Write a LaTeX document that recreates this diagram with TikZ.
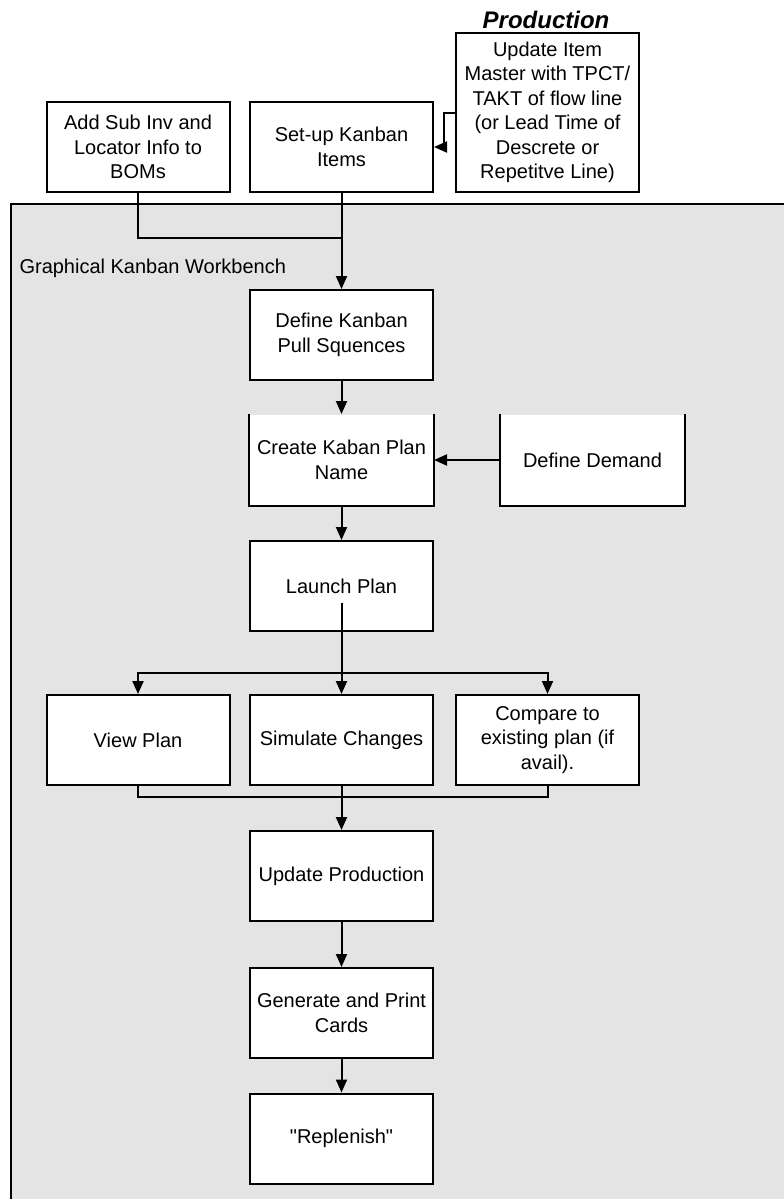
\documentclass[tikz,border=0pt]{standalone}
\usepackage{fontspec}
\setmainfont{Liberation Sans}
\usepackage{tikz}
\usetikzlibrary{arrows.meta,calc}
\definecolor{benchgray}{RGB}{228,228,228}

\begin{document}
\begin{tikzpicture}[
  x=1pt, y=-1pt,
  box/.style={draw, line width=2pt, fill=white, align=center,
              font=\fontsize{20}{24.5}\selectfont,
              minimum width=183pt, minimum height=90pt, inner sep=0pt},
  openbox/.style={box, draw=none},
  arr/.style={-{Triangle[length=13pt,width=11pt]}, line width=2pt},
  wire/.style={line width=2pt}
]
\useasboundingbox (0,0) rectangle (784,1199);
% workbench area
\fill[benchgray] (11,204) rectangle (784,1199);
\draw[wire] (11,1199) -- (11,204) -- (784,204);
\node[anchor=west, font=\fontsize{20}{24.5}\selectfont] (wb) at (16,268) {Graphical Kanban Workbench};

% set-up steps
\node[font=\fontsize{24}{28}\selectfont\bfseries\itshape] (prodtitle) at (546,20) {Production};
\node[box] (bom) at (138,147) {Add Sub Inv and\\Locator Info to\\BOMs};
\node[box] (setup) at (341.5,147) {Set-up Kanban\\Items};
\node[box, minimum height=159pt] (prod) at (547.5,112.5)
  {Update Item\\Master with TPCT/\\TAKT of flow line\\(or Lead Time of\\Descrete or\\Repetitve Line)};

% workbench steps
\node[box] (pull) at (341.5,335) {Define Kanban\\Pull Squences};
\node[openbox] (plan) at (341.5,460) {Create Kaban Plan\\Name};
\node[openbox] (demand) at (592.5,460) {Define Demand};
\draw[wire] (plan.north west) -- (plan.south west) -- (plan.south east) -- (plan.north east);
\draw[wire] (demand.north west) -- (demand.south west) -- (demand.south east) -- (demand.north east);
\node[box] (launch) at (341.5,586) {Launch Plan};
\node[box] (view) at (138,740) {View Plan};
\node[box] (sim) at (341.5,740) {Simulate Changes};
\node[box] (cmp) at (547.5,740) {Compare to\\existing plan (if\\avail).};
\node[box] (update) at (341.5,876) {Update Production};
\node[box] (cards) at (341.5,1013) {Generate and Print\\Cards};
\node[box] (repl) at (341.5,1138.5) {\textquotedbl Replenish\textquotedbl};

% connectors
\coordinate (join) at (341.5,238);
\coordinate (lout) at ($(launch.center)+(0,17)$);
\coordinate (fork) at (341.5,673);
\coordinate (merge) at (341.5,797);
\draw[wire] (bom.south) |- (join);
\draw[arr] (setup.south) -- (pull.north);
\draw[arr] (prod.west) -- ++(-11,0) |- (setup.east);
\draw[arr] (pull.south) -- (plan.north);
\draw[arr] (demand.west) -- (plan.east);
\draw[arr] (plan.south) -- (launch.north);
\draw[arr] (lout) -- (sim.north);
\draw[arr] (fork) -| (view.north);
\draw[arr] (fork) -| (cmp.north);
\draw[wire] (view.south) |- (merge);
\draw[wire] (cmp.south) |- (merge);
\draw[arr] (sim.south) -- (update.north);
\draw[arr] (update.south) -- (cards.north);
\draw[arr] (cards.south) -- (repl.north);
\end{tikzpicture}
\end{document}
